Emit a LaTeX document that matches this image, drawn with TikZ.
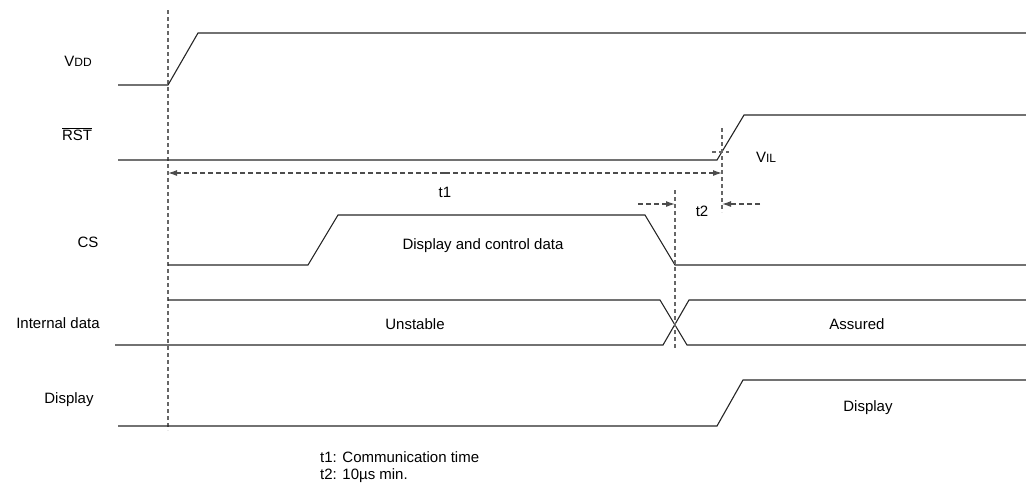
\documentclass[tikz,border=0pt]{standalone}
\usepackage{fontspec}
\setmainfont{Liberation Sans}
\usepackage{tikz}
\usetikzlibrary{positioning}
\usetikzlibrary{arrows.meta}
\tikzstyle{wave}=[draw=black!85, line width=1.1pt]
\tikzstyle{guide}=[draw=black!60, line width=1.2pt, dash pattern=on 4pt off 3pt]
\tikzstyle{span}=[draw=black!70, line width=1.2pt, dash pattern=on 5pt off 3pt]
\tikzstyle{arrow}=[-{Latex[length=9pt,width=6pt]}]
\tikzstyle{label}=[font=\fontsize{15}{17}\selectfont, inner sep=0pt]
\newcommand{\lowsc}[1]{{\fontsize{12}{14}\selectfont #1}}

\begin{document}
\begin{tikzpicture}[x=1pt, y=-1pt]
    \useasboundingbox (0,0) rectangle (1026,483);

    % signal names
    \node [label] (name-vdd) at (78,61) {V\lowsc{DD}};
    \node [label] (name-rst) at (77,134) {$\overline{\mbox{RST}}$};
    \node [label] (name-cs) at (88,242) {CS};
    \node [label] (name-int) at (58,323) {Internal data};
    \node [label] (name-disp) at (69,400) {Display};

    % power-on guide
    \coordinate (g-top) at (168,10);
    \coordinate (g-bot) at (168,430);
    \draw [guide] (g-top) -- (g-bot);

    % waveforms
    \draw [wave] (118,85) -- (168,85) -- (198,33) -- (1026,33);
    \draw [wave] (118,160) -- (717,160) -- (744,115) -- (1026,115);
    \draw [wave] (168,265) -- (308,265) -- (338,215) -- (645,215) -- (675,265) -- (1026,265);
    \draw [wave] (168,300) -- (660,300) -- (687,345) -- (1026,345);
    \draw [wave] (115,345) -- (663,345) -- (689,300) -- (1026,300);
    \draw [wave] (118,426) -- (717,426) -- (743,380) -- (1026,380);

    % VIL point and t2 guides
    \coordinate (vil-top) at (722,128);
    \coordinate (vil-bot) at (722,212);
    \coordinate (cs-top) at (675,190);
    \coordinate (cs-bot) at (675,350);
    \draw [guide] (vil-top) -- (vil-bot);
    \draw [guide] (712,152) -- (729,152);
    \draw [guide] (cs-top) -- (cs-bot);

    % t1
    \coordinate (t1-a) at (168,173);
    \coordinate (t1-b) at (722,173);
    \draw [span, arrow] (445,173) -- (t1-a);
    \draw [span, arrow] (445,173) -- (t1-b);

    % t2
    \coordinate (t2-a) at (675,204);
    \coordinate (t2-b) at (722,204);
    \draw [span, arrow] (638,204) -- (t2-a);
    \draw [span, arrow] (760,204) -- (t2-b);

    % texts
    \node [label] (vil) at (766,157) {V\lowsc{IL}};
    \node [label] (t1) at (445,192) {t1};
    \node [label] (t2) at (702,211) {t2};
    \node [label] (cs-data) at (483,246) {Display and control data};
    \node [label] (unstable) at (415,324) {Unstable};
    \node [label] (assured) at (857,324) {Assured};
    \node [label] (disp-on) at (868,408) {Display};
    \node [label, anchor=west] (note-1) at (320,457) {t1: Communication time};
    \node [label, anchor=west] (note-2) at (320,476) {t2: 10\textmu s min.};
  \end{tikzpicture}
\end{document}
